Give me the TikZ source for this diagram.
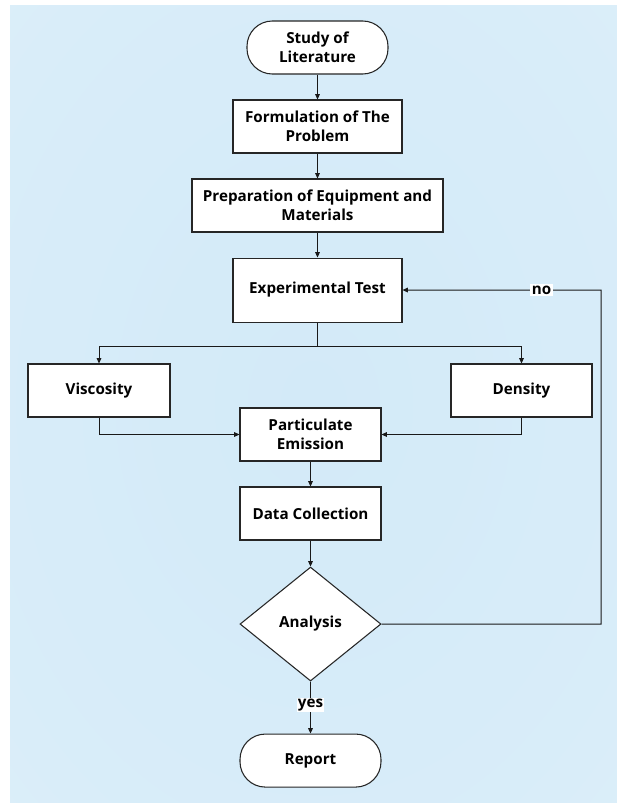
\documentclass[tikz,border=0pt]{standalone}
\usepackage{fontspec}
\setmainfont{Open Sans}
\usetikzlibrary{shapes.geometric,arrows.meta}
\definecolor{bgin}{RGB}{211,234,248}
\definecolor{bgout}{RGB}{233,245,252}
\pgfdeclareradialshading{bgshade}{\pgfpoint{0bp}{0bp}}{color(0bp)=(bgin); color(30bp)=(bgin!75!bgout); color(71bp)=(bgout)}
\begin{document}
\begin{tikzpicture}
            [x=0.75pt, y=-0.75pt,
             main/.style ={draw=black!85, fill=white, line width=0.8pt, minimum height=39.75pt, align=center,
                           inner sep=2pt, font=\bfseries\fontsize{11.4}{14.25}\selectfont},
             term/.style ={main, rounded corners=19pt},
             dec/.style ={main, diamond, aspect=1.24, minimum width=105.75pt, minimum height=85.5pt, inner sep=0pt},
             lbl/.style ={fill=white, inner sep=1pt, font=\bfseries\fontsize{11.4}{14.25}\selectfont},
             arr/.style ={-{Triangle[length=4pt,width=3.5pt]}, line width=0.75pt, draw=black!90}]
            \useasboundingbox (0,0) rectangle (617,803);
            \shade[shading=bgshade] (10,5) rectangle (617,803);
            \node[term, minimum width=105.75pt] (study) at (317.5,47.5) {Study of\\Literature};
            \node[main, minimum width=126.75pt] (form)[below of = study, node distance=59.25pt] {Formulation of The\\Problem};
            \node[main, minimum width=188.25pt] (prep)[below of = form, node distance=59.25pt] {Preparation of Equipment and\\Materials};
            \node[main, minimum width=126.75pt, minimum height=48pt] (exp)[below of = prep, node distance=63.4pt] {Experimental Test};
            \node[main, minimum width=106.5pt] (visc) at (99,390.5) {Viscosity};
            \node[main, minimum width=105.75pt] (dens) at (521.5,390.5) {Density};
            \node[main, minimum width=105.75pt] (pe) at (310.5,434.5) {Particulate\\Emission};
            \node[main, minimum width=105.75pt] (dc)[below of = pe, node distance=59.25pt] {Data Collection};
            \node[dec] (ana)[below of = dc, node distance=82.9pt] {Analysis};
            \node[term, minimum width=105.75pt] (rep)[below of = ana, node distance=102.4pt] {Report};
            \coordinate (split) at (317.5,346);
            \coordinate (back) at (601,624);
            \coordinate (up) at (601,290);
            \draw[arr] (study) -- (form);
            \draw[arr] (form) -- (prep);
            \draw[arr] (prep) -- (exp);
            \draw[line width=0.75pt, black!90] (exp) -- (split);
            \draw[arr] (split) -| (visc);
            \draw[arr] (split) -| (dens);
            \draw[arr] (visc) |- (pe);
            \draw[arr] (dens) |- (pe);
            \draw[arr] (pe) -- (dc);
            \draw[arr] (dc) -- (ana);
            \draw[arr] (ana) -- node[lbl, pos=0.45]{yes} (rep);
            \draw[arr] (ana) -- (back) -- (up) -- node[lbl, pos=0.3]{no} (exp);
        \end{tikzpicture}
\end{document}
